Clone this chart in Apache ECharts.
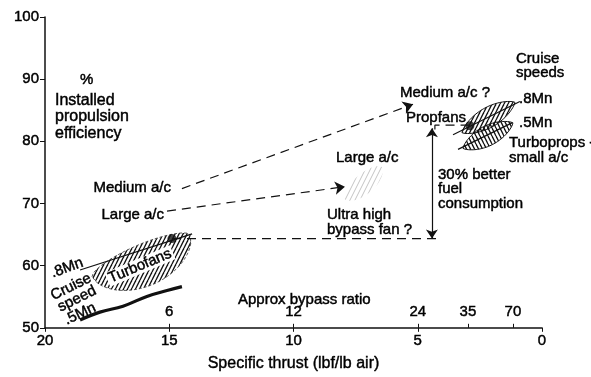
<!DOCTYPE html>
<html><head><meta charset="utf-8">
<script src="https://cdn.jsdelivr.net/npm/echarts@6/dist/echarts.min.js"></script>
<style>html,body{margin:0;padding:0;background:#fff}#c{width:591px;height:377px}</style>
</head><body><div id="c"></div>
<script>
// ---- data ----
const xTickValues = [20, 15, 10, 5, 0];            // specific thrust lbf/lb air
const yTickValues = [50, 60, 70, 80, 90, 100];      // % installed propulsion efficiency
const bypassPositions = [15, 10, 5, 2.98, 1.17];    // where bypass ratio ticks fall on thrust scale
const bypassLabels = ['6', '12', '24', '35', '70'];

// leaf-shaped regions: [x1, y1, x2, y2] tip to tip
const turbofanLeaf = [18.11, 58.2, 14.16, 64.98];
const propfanLeaf = [3.22, 81.39, 1.09, 86.28];
const turbopropLeaf = [3.18, 78.86, 1.17, 82.97];
const ultraHighLeaf = [7.93, 70.66, 6.44, 75.87];

// cruise speed lines
const turbofan08Line = [[18.59, 59.3], [14.08, 65.1]];
const turbofan05Curve = [[18.59, 51.26], [17.79, 52.52], [16.86, 53.47], [15.90, 55.05], [15.09, 55.99], [14.49, 56.62]];
const propfan08Line = [[3.58, 81.07], [0.89, 86.4]];
const turboprop05Line = [[3.38, 78.7], [1.21, 82.97]];

// design points
const designPoints = [[14.89, 64.35], [2.90, 82.5]];

// trend arrows / guide lines
const mediumArrow = [[14.49, 72.4], [5.19, 85.96]];
const largeArrow = [[15.09, 68.77], [7.93, 72.7]];
const baseDashed = [[14.89, 64.35], [4.23, 64.35]];
const topDashed = [[4.31, 81.9], [4.31, 82.6], [2.90, 82.6]];
const gainArrow = [[4.43, 82.1], [4.43, 64.35]];

// ---- helpers ----
function hatch(dir, color, sp, lw) {
  const c = document.createElement('canvas');
  const w = sp, h = sp * 2;
  c.width = w; c.height = h;
  const ctx = c.getContext('2d');
  ctx.strokeStyle = color; ctx.lineWidth = lw;
  for (let k = -1; k <= 1; k++) {
    ctx.beginPath();
    if (dir > 0) { ctx.moveTo(k * w, h); ctx.lineTo(k * w + w, 0); }
    else { ctx.moveTo(k * w, 0); ctx.lineTo(k * w + w, h); }
    ctx.stroke();
  }
  return c;
}
const hatchA = hatch(1, '#111', 4, 1.3);
const hatchB = hatch(-1, '#111', 4, 1.3);
const hatchFaint = hatch(1, '#c4c4c4', 5, 1);

const leafStyles = [
  { top: 11, bot: 31, p: 0.58, fill: hatchA, stroke: '#333', lw: 0.8, dash: [3, 2] },
  { top: 10, bot: 10, p: 0.8, fill: hatchA, stroke: '#111', lw: 1, dash: null },
  { top: 10, bot: 10, p: 0.8, fill: hatchB, stroke: '#111', lw: 1, dash: null },
  { top: 9, bot: 11, p: 0.6, fill: hatchFaint, stroke: null, lw: 0, dash: null }
];

function renderLeaf(params, api) {
  const a = api.coord([api.value(0), api.value(1)]);
  const b = api.coord([api.value(2), api.value(3)]);
  const s = leafStyles[params.dataIndex];
  const dx = b[0] - a[0], dy = b[1] - a[1];
  const L = Math.hypot(dx, dy);
  const nx = dy / L, ny = -dx / L;
  const N = 40, pts = [];
  for (let i = 0; i <= N; i++) {
    const t = -1 + 2 * i / N, f = Math.pow(Math.max(0, 1 - t * t), s.p), u = (t + 1) / 2;
    pts.push([a[0] + dx * u + nx * s.top * f, a[1] + dy * u + ny * s.top * f]);
  }
  for (let i = N; i >= 0; i--) {
    const t = -1 + 2 * i / N, f = Math.pow(Math.max(0, 1 - t * t), s.p), u = (t + 1) / 2;
    pts.push([a[0] + dx * u - nx * s.bot * f, a[1] + dy * u - ny * s.bot * f]);
  }
  return {
    type: 'polygon',
    shape: { points: pts },
    style: { fill: { image: s.fill, repeat: 'repeat' }, stroke: s.stroke || 'none', lineWidth: s.lw, lineDash: s.dash }
  };
}

const FONT = '"Liberation Sans", Arial, Helvetica, sans-serif';
const TXT = '#000';
function txt(text, x, y, opts) {
  opts = opts || {};
  const st = {
    text: text, fill: TXT, font: (opts.size || 15) + 'px ' + FONT,
    textAlign: opts.align || 'left', verticalAlign: 'middle', lineHeight: opts.lh || 15,
    stroke: TXT, lineWidth: 0.45
  };
  if (opts.bg) { st.backgroundColor = '#fff'; st.padding = [0, 2]; }
  return { type: 'text', x: x, y: y, rotation: opts.rot || 0, z: 10, style: st };
}
const labelTxt = { color: TXT, fontSize: 15, fontFamily: FONT, textBorderColor: TXT, textBorderWidth: 0.45 };

const dashStyle = { color: '#111', width: 1.2, type: [9, 6] };

const chart = echarts.init(document.getElementById('c'), null, { renderer: 'canvas' });
chart.setOption({
  animation: false,
  backgroundColor: '#fff',
  grid: { left: 45, right: 49, top: 17, bottom: 43, containLabel: false },
  xAxis: [{
    type: 'value', min: 0, max: 20, interval: 5, inverse: true,
    axisLine: { onZero: false, lineStyle: { color: '#111', width: 1.5 } },
    axisTick: { show: true, length: 4, lineStyle: { color: '#111' } },
    axisLabel: Object.assign({ margin: 6 }, labelTxt),
    splitLine: { show: false },
    name: 'Specific thrust (lbf/lb air)', nameLocation: 'middle', nameGap: 28,
    nameTextStyle: { color: TXT, fontSize: 16, fontFamily: FONT, textBorderColor: TXT, textBorderWidth: 0.4 }
  }, {
    type: 'value', min: 0, max: 20, inverse: true, position: 'bottom',
    axisLine: { show: false, onZero: false },
    axisTick: { show: true, inside: true, length: 4, customValues: bypassPositions, lineStyle: { color: '#111' } },
    axisLabel: Object.assign({
      inside: true, margin: 8,
      customValues: bypassPositions,
      formatter: function (v) { const i = bypassPositions.indexOf(v); return i >= 0 ? bypassLabels[i] : ''; }
    }, labelTxt),
    splitLine: { show: false }
  }],
  yAxis: {
    type: 'value', min: 50, max: 100, interval: 10, position: 'left',
    axisLine: { show: true, onZero: false, lineStyle: { color: '#111', width: 1.5 } },
    axisTick: { show: true, length: 5, lineStyle: { color: '#111' } },
    axisLabel: Object.assign({ margin: 6 }, labelTxt),
    splitLine: { show: false }
  },
  series: [
    { type: 'custom', renderItem: renderLeaf, data: [turbofanLeaf, propfanLeaf, turbopropLeaf, ultraHighLeaf], z: 2, silent: true },
    { type: 'line', data: turbofan08Line, symbol: 'none', lineStyle: { color: '#111', width: 1.2 }, z: 3 },
    { type: 'line', data: turbofan05Curve, symbol: 'none', smooth: 0.4, lineStyle: { color: '#111', width: 3.2 }, z: 3 },
    { type: 'line', data: propfan08Line, symbol: 'none', lineStyle: { color: '#111', width: 1.2 }, z: 3 },
    { type: 'line', data: turboprop05Line, symbol: 'none', lineStyle: { color: '#111', width: 1.2 }, z: 3 },
    { type: 'line', data: baseDashed, symbol: 'none', lineStyle: dashStyle, z: 3 },
    { type: 'line', data: topDashed, symbol: 'none', lineStyle: dashStyle, z: 3 },
    {
      type: 'lines', coordinateSystem: 'cartesian2d', z: 4,
      symbol: ['none', 'arrow'], symbolSize: 10,
      lineStyle: { color: '#111', width: 1.2, type: [9, 6], opacity: 1 },
      data: [{ coords: mediumArrow }, { coords: largeArrow }]
    },
    {
      type: 'lines', coordinateSystem: 'cartesian2d', z: 4,
      symbol: ['arrow', 'arrow'], symbolSize: 9,
      lineStyle: { color: '#111', width: 1.2, opacity: 1 },
      data: [{ coords: gainArrow }]
    },
    { type: 'scatter', data: designPoints, symbolSize: 9, itemStyle: { color: '#111' }, z: 5 }
  ],
  graphic: [
    txt('%', 80, 80),
    txt('Installed\npropulsion\nefficiency', 55, 117, { size: 16, lh: 16.5 }),
    txt('Medium a/c', 171, 188, { align: 'right' }),
    txt('Large a/c', 164, 215, { align: 'right' }),
    txt('Medium a/c ?', 400, 93),
    txt('Propfans', 406, 118),
    txt('Cruise\nspeeds', 516, 66, { lh: 14.5 }),
    txt('.8Mn', 519, 99),
    txt('.5Mn', 519, 123),
    txt('Turboprops -\nsmall a/c', 509, 150, { lh: 15 }),
    txt('Large a/c', 336, 158),
    txt('30% better\nfuel\nconsumption', 438, 189, { lh: 14.5 }),
    txt('Ultra high\nbypass fan ?', 327, 222, { lh: 15 }),
    txt('Approx bypass ratio', 238, 300),
    txt('Turbofans', 140, 266, { align: 'center', rot: 0.4, bg: true }),
    txt('.8Mn', 67, 268, { align: 'center', rot: 0.35 }),
    txt('Cruise', 71, 287, { align: 'center', rot: 0.46 }),
    txt('speed', 77, 299, { align: 'center', rot: 0.46 }),
    txt('.5Mn', 80, 314, { align: 'center', rot: 0.44 })
  ]
});
</script></body></html>
